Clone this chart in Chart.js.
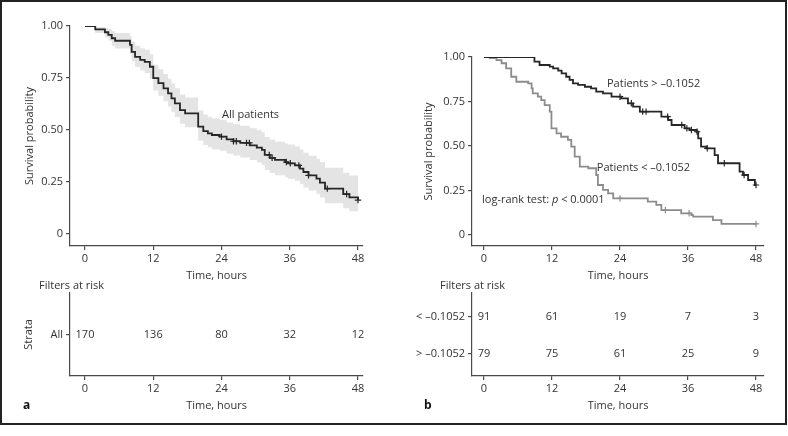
<!DOCTYPE html>
<html><head><meta charset="utf-8">
<script src="https://cdn.jsdelivr.net/npm/chart.js@4.4.0/dist/chart.umd.min.js"></script>
<style>
html,body{margin:0;padding:0;background:#fff;}
#wrap{position:relative;width:788px;height:436px;overflow:hidden;background:#fff;}
.cv{position:absolute;}
#frame{position:absolute;left:0;top:0;width:787px;height:425px;box-sizing:border-box;border:2px solid #222;pointer-events:none;}
</style></head><body>
<div id="wrap">
<canvas id="a1" class="cv" width="394" height="282" style="left:0;top:0"></canvas>
<canvas id="a2" class="cv" width="394" height="150" style="left:0;top:280px"></canvas>
<canvas id="b1" class="cv" width="394" height="282" style="left:394px;top:0"></canvas>
<canvas id="b2" class="cv" width="394" height="150" style="left:394px;top:280px"></canvas>
<div id="frame"></div>
</div>
<script>
// ---------- DATA ----------
const xTicks = [0, 12, 24, 36, 48];
const yTicks = [0, 0.25, 0.5, 0.75, 1];
const yTickLabels = ['0', '0.25', '0.50', '0.75', '1.00'];

// Panel a: all patients (Kaplan-Meier)
const allTime = [0,1.8,3.5,4.1,4.7,5.3,7.9,8.2,8.8,9.7,10.5,11.4,12.0,12.9,13.8,14.6,15.2,15.8,16.7,17.6,19.9,20.8,21.6,22.3,23.7,24.9,26.1,27.3,29.0,30.2,31.1,31.6,32.5,33.4,35.2,35.7,36.9,37.8,38.4,39.3,40.7,41.3,42.2,45.4,46.5,48.0];
const allSurv = [1.000,0.984,0.970,0.957,0.941,0.929,0.909,0.876,0.852,0.837,0.828,0.804,0.749,0.725,0.700,0.676,0.652,0.628,0.596,0.580,0.516,0.495,0.484,0.476,0.468,0.455,0.446,0.438,0.426,0.415,0.404,0.380,0.366,0.356,0.346,0.340,0.330,0.314,0.298,0.282,0.266,0.247,0.218,0.192,0.176,0.163];
const allUpper = [1.000,0.995,0.990,0.985,0.975,0.966,0.952,0.925,0.905,0.893,0.886,0.864,0.814,0.792,0.769,0.746,0.724,0.701,0.671,0.656,0.594,0.574,0.563,0.555,0.548,0.536,0.528,0.520,0.509,0.499,0.489,0.466,0.453,0.444,0.435,0.430,0.421,0.406,0.391,0.376,0.362,0.345,0.318,0.295,0.281,0.270];
const allLower = [1.000,0.966,0.945,0.930,0.905,0.892,0.868,0.830,0.803,0.786,0.774,0.748,0.690,0.665,0.638,0.613,0.588,0.563,0.530,0.513,0.449,0.428,0.417,0.408,0.400,0.386,0.377,0.368,0.356,0.344,0.332,0.308,0.293,0.283,0.272,0.266,0.256,0.240,0.224,0.209,0.193,0.175,0.148,0.124,0.109,0.098];
const allCensTime = [24.0,26.1,26.6,28.4,28.9,32.4,32.9,35.4,36.1,37.6,39.3,42.6,46.0,48.0];
const allCensSurv = [0.468,0.446,0.446,0.438,0.438,0.380,0.366,0.346,0.340,0.330,0.282,0.218,0.192,0.163];

// Panel b: patients > -0.1052 (dark) and < -0.1052 (grey)
const highTime = [0,8.9,9.8,11.6,12.2,13.1,13.7,14.5,15.1,15.7,16.6,17.8,18.9,19.8,21.0,22.5,24.2,25.4,26.3,27.5,31.3,32.5,33.1,35.4,36.3,37.5,37.8,38.3,39.2,40.7,41.3,45.1,45.7,46.6,47.8,48.0];
const highSurv = [1.000,0.974,0.955,0.946,0.936,0.923,0.908,0.889,0.871,0.852,0.843,0.833,0.824,0.805,0.796,0.777,0.768,0.740,0.721,0.693,0.665,0.646,0.618,0.599,0.590,0.580,0.543,0.496,0.487,0.449,0.403,0.356,0.337,0.309,0.281,0.281];
const highCensTime = [24.0,26.0,28.0,28.6,32.4,34.9,35.8,36.6,37.6,39.4,42.4,45.9,48.0];
const highCensSurv = [0.777,0.740,0.693,0.693,0.665,0.618,0.599,0.590,0.580,0.487,0.403,0.337,0.281];

const lowTime = [0,1.0,2.2,3.1,3.9,4.8,5.7,7.8,8.4,8.6,9.5,10.1,10.7,11.6,11.9,12.8,13.6,14.8,15.4,16.0,16.9,18.4,19.8,20.1,21.0,21.9,22.8,28.9,30.4,31.3,34.8,36.6,36.9,40.4,41.9,48.0];
const lowSurv = [1.000,0.994,0.983,0.965,0.936,0.889,0.861,0.852,0.824,0.796,0.777,0.758,0.730,0.693,0.599,0.571,0.552,0.534,0.496,0.440,0.384,0.375,0.337,0.281,0.253,0.234,0.206,0.187,0.169,0.140,0.122,0.112,0.103,0.084,0.062,0.062];
const lowCensTime = [24.0,32.0,36.2,48.0];
const lowCensSurv = [0.206,0.140,0.122,0.062];

// Numbers at risk
const riskTimes = [0, 12, 24, 36, 48];
const riskAll = [170, 136, 80, 32, 12];
const riskLow = [91, 61, 19, 7, 3];
const riskHigh = [79, 75, 61, 25, 9];
const strataA = ['All'];
const strataB = ['< \u20130.1052', '> \u20130.1052'];

// ---------- STYLE ----------
const FONT = "'Open Sans', 'Noto Sans', sans-serif";
const TXT = '#333333';
const AX = '#4a4a4a';
const DARK = '#262626';
const GREY = '#8c8c8c';
const BAND = '#e4e4e4';
Chart.defaults.font.family = FONT;
Chart.defaults.font.size = 11;
Chart.defaults.color = TXT;
Chart.defaults.animation = false;

const pts = (xs, ys) => xs.map((x, i) => ({x: x, y: ys[i]}));

const notesPlugin = {
  id: 'notes',
  afterDraw(chart, args, opts) {
    const ctx = chart.ctx;
    const xs = chart.scales.x, ys = chart.scales.y;
    (opts.items || []).forEach(it => {
      ctx.save();
      ctx.fillStyle = it.color || TXT;
      ctx.textBaseline = 'middle';
      ctx.textAlign = it.align || 'left';
      let px = it.px !== undefined ? it.px : xs.getPixelForValue(it.x);
      let py = it.py !== undefined ? it.py : ys.getPixelForValue(it.y);
      const parts = it.parts || [{text: it.text, style: it.style || ''}];
      parts.forEach(p => {
        ctx.font = (p.style ? p.style + ' ' : '') + (it.weight || 'normal') + ' ' + (it.size || 11) + 'px ' + FONT;
        ctx.fillText(p.text, px, py);
        px += ctx.measureText(p.text).width;
      });
      ctx.restore();
    });
  }
};

const riskPlugin = {
  id: 'riskText',
  afterDatasetsDraw(chart) {
    const ctx = chart.ctx;
    chart.data.datasets.forEach((ds, di) => {
      if (!ds.counts) return;
      const meta = chart.getDatasetMeta(di);
      ctx.save();
      ctx.fillStyle = TXT;
      ctx.font = '11px ' + FONT;
      ctx.textAlign = 'center';
      ctx.textBaseline = 'middle';
      meta.data.forEach((el, i) => ctx.fillText(String(ds.counts[i]), el.x, el.y));
      ctx.restore();
    });
  }
};

function axisCommon() {
  return {
    grid: {display: true, drawOnChartArea: false, drawTicks: true, tickLength: 4, color: AX, lineWidth: 1.2},
    border: {display: true, color: AX, width: 1.2},
  };
}

function xAxis(min, max, h, titlePadBottom) {
  return Object.assign(axisCommon(), {
    type: 'linear', min: min, max: max,
    afterBuildTicks: s => { s.ticks = xTicks.map(v => ({value: v})); },
    afterFit: s => { s.height = h; },
    ticks: {color: TXT, padding: 2, maxRotation: 0, autoSkip: false, callback: v => String(v)},
    title: {display: true, text: 'Time, hours', color: TXT, font: {size: 11}, padding: {top: 0, bottom: titlePadBottom}}
  });
}

function kmYAxis(min, w, titlePad) {
  return Object.assign(axisCommon(), {
    type: 'linear', min: min, max: 1,
    afterBuildTicks: s => { s.ticks = yTicks.map(v => ({value: v})); },
    afterFit: s => { s.width = w; },
    ticks: {color: TXT, padding: 3, autoSkip: false, callback: v => yTickLabels[yTicks.indexOf(v)]},
    title: {display: true, text: 'Survival probability', color: TXT, font: {size: 11}, padding: {top: titlePad, bottom: 0}}
  });
}

function lineDs(xs, ys, color, width) {
  return {type: 'line', data: pts(xs, ys), borderColor: color, borderWidth: width, stepped: true,
          pointRadius: 0, fill: false, tension: 0};
}
function censDs(xs, ys, color) {
  return {type: 'line', data: pts(xs, ys), showLine: false, pointStyle: 'cross', pointRadius: 3.2,
          borderColor: color, pointBorderColor: color, pointBorderWidth: 1.2, fill: false};
}

// ---------- PANEL A: KM ----------
new Chart(document.getElementById('a1'), {
  type: 'line',
  data: {datasets: [
    lineDs(allTime, allSurv, DARK, 1.8),
    censDs(allCensTime, allCensSurv, DARK),
    {type: 'line', data: pts(allTime, allUpper), borderWidth: 0, borderColor: 'rgba(0,0,0,0)', backgroundColor: BAND,
     stepped: true, pointRadius: 0, fill: '+1'},
    {type: 'line', data: pts(allTime, allLower), borderWidth: 0, borderColor: 'rgba(0,0,0,0)', stepped: true, pointRadius: 0, fill: false}
  ]},
  options: {
    responsive: false, animation: false, parsing: true,
    layout: {padding: {top: 26, right: 31, left: 0, bottom: 0}},
    plugins: {legend: {display: false}, tooltip: {enabled: false},
      notes: {items: [{x: 24.1, y: 0.572, text: 'All patients'}]}},
    scales: {x: xAxis(-2.64, 48.88, 36, 0), y: kmYAxis(-0.0577, 70, 23.4)}
  },
  plugins: [notesPlugin]
});

// ---------- PANEL A: risk table ----------
new Chart(document.getElementById('a2'), {
  type: 'line',
  data: {datasets: [
    {type: 'line', data: riskTimes.map(t => ({x: t, y: 1})), counts: riskAll, showLine: false, pointRadius: 0}
  ]},
  options: {
    responsive: false, animation: false,
    layout: {padding: {top: 13, right: 31, left: 0, bottom: 0}},
    plugins: {legend: {display: false}, tooltip: {enabled: false},
      notes: {items: [
        {px: 39, py: 6, text: 'Filters at risk'},
        {px: 23, py: 126, text: 'a', weight: 'bold', size: 12, color: '#111'}
      ]}},
    scales: {
      x: xAxis(-2.64, 48.88, 54, 17.4),
      y: Object.assign(axisCommon(), {
        type: 'linear', min: 0, max: 2,
        afterBuildTicks: s => { s.ticks = [{value: 1}]; },
        afterFit: s => { s.width = 70; },
        ticks: {color: TXT, padding: 3, autoSkip: false, callback: v => strataA[0]},
        title: {display: true, text: 'Strata', color: TXT, font: {size: 11}, padding: {top: 22.4, bottom: 0}}
      })
    }
  },
  plugins: [notesPlugin, riskPlugin]
});

// ---------- PANEL B: KM ----------
new Chart(document.getElementById('b1'), {
  type: 'line',
  data: {datasets: [
    lineDs(highTime, highSurv, DARK, 1.8),
    censDs(highCensTime, highCensSurv, DARK),
    lineDs(lowTime, lowSurv, GREY, 1.8),
    censDs(lowCensTime, lowCensSurv, GREY)
  ]},
  options: {
    responsive: false, animation: false,
    layout: {padding: {top: 57, right: 24, left: 0, bottom: 0}},
    plugins: {legend: {display: false}, tooltip: {enabled: false},
      notes: {items: [
        {x: 21.7, y: 0.848, text: 'Patients > \u20130.1052'},
        {x: 19.9, y: 0.376, text: 'Patients < \u20130.1052'},
        {x: -0.35, y: 0.197, parts: [{text: 'log-rank test: '}, {text: 'p', style: 'italic'}, {text: ' < 0.0001'}]}
      ]}},
    scales: {x: xAxis(-2.12, 49.41, 36, 0), y: kmYAxis(-0.0618, 78, 28.4)}
  },
  plugins: [notesPlugin]
});

// ---------- PANEL B: risk table ----------
new Chart(document.getElementById('b2'), {
  type: 'line',
  data: {datasets: [
    {type: 'line', data: riskTimes.map(t => ({x: t, y: 2})), counts: riskLow, showLine: false, pointRadius: 0},
    {type: 'line', data: riskTimes.map(t => ({x: t, y: 1})), counts: riskHigh, showLine: false, pointRadius: 0}
  ]},
  options: {
    responsive: false, animation: false,
    layout: {padding: {top: 13, right: 24, left: 0, bottom: 0}},
    plugins: {legend: {display: false}, tooltip: {enabled: false},
      notes: {items: [
        {px: 46, py: 6, text: 'Filters at risk'},
        {px: 30, py: 126, text: 'b', weight: 'bold', size: 12, color: '#111'}
      ]}},
    scales: {
      x: xAxis(-2.12, 49.41, 54, 17.4),
      y: Object.assign(axisCommon(), {
        type: 'linear', min: 0.4, max: 2.65,
        afterBuildTicks: s => { s.ticks = [{value: 1}, {value: 2}]; },
        afterFit: s => { s.width = 78; },
        ticks: {color: TXT, padding: 3, autoSkip: false, callback: v => (v === 2 ? strataB[0] : strataB[1])},
        title: {display: false}
      })
    }
  },
  plugins: [notesPlugin, riskPlugin]
});
</script>
</body></html>
